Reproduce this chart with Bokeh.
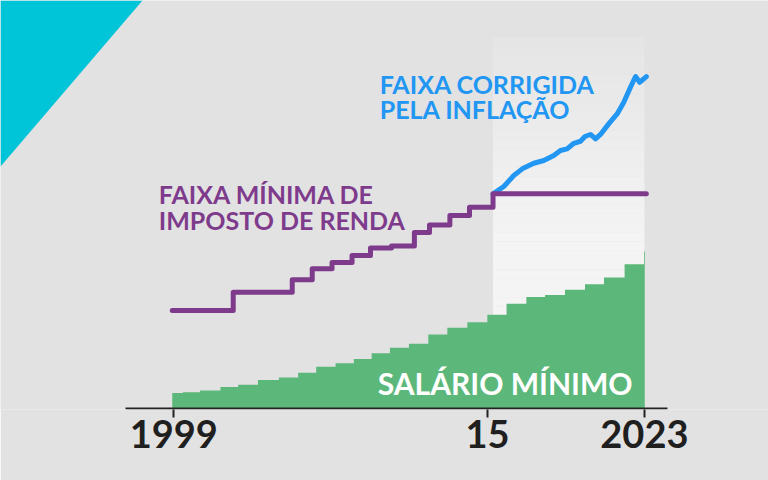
from bokeh.plotting import figure
from bokeh.models import Range1d, FixedTicker, PolyAnnotation
from bokeh.core.properties import value
from bokeh.embed import file_html
from bokeh.resources import INLINE

# ---- data -------------------------------------------------------------
# Salário mínimo (R$), step changes
wage_dates = [1998.92, 1999.46, 2000.33, 2001.38, 2002.28, 2003.29, 2004.36, 2005.34,
              2006.26, 2007.25, 2008.18, 2009.09, 2010.02, 2010.99, 2011.98, 2012.95,
              2013.97, 2014.99, 2015.97, 2016.98, 2017.93, 2018.95, 2019.97, 2020.94,
              2021.99, 2022.98, 2023.02]
wage_values = [130, 136, 151, 180, 200, 240, 260, 300, 350, 380, 415, 465, 510, 545,
               622, 678, 724, 788, 880, 937, 954, 998, 1045, 1100, 1212, 1320, 1320]

# Faixa mínima de imposto de renda (same scale)
ir_dates = [1998.92, 2002.03, 2005.04, 2006.06, 2007.07, 2008.09, 2009.03, 2010.10,
            2011.27, 2012.04, 2013.08, 2014.08, 2015.28, 2023.10]
ir_values = [824, 977, 1082, 1174, 1227, 1286, 1349, 1366, 1479, 1542, 1622, 1692,
             1804, 1804]

# Faixa corrigida pela inflação
infl_dates = [2015.28, 2015.83, 2016.34, 2016.77, 2017.36, 2017.87, 2018.38, 2018.72,
              2019.06, 2019.40, 2019.74, 2019.97, 2020.25, 2020.51, 2020.76, 2021.18,
              2021.61, 2021.95, 2022.29, 2022.55, 2022.76, 2023.10]
infl_values = [1804, 1866, 1958, 2014, 2061, 2084, 2126, 2168, 2182, 2229, 2246, 2286,
               2303, 2266, 2303, 2392, 2476, 2574, 2700, 2790, 2742, 2790]

tick_years = [1999, 2015, 2023]
tick_labels = ["1999", "15", "2023"]

# ---- styling ----------------------------------------------------------
BG = "#e2e2e2"
PURPLE = "#7e3b8c"
BLUE = "#2196f3"
GREEN = "#5cb87a"
CYAN = "#00c4d8"
FONT = "Lato"

AXIS_LEFT, AXIS_RIGHT = 1996.537, 2024.176   # extent of the drawn axis line
SHADE_TOP = 3118

p = figure(width=768, height=480, output_backend="svg", toolbar_location=None,
           x_range=Range1d(1990.16, 2029.33), y_range=Range1d(-8.4, 3429),
           y_axis_location=None,
           min_border_left=0, min_border_right=0, min_border_top=0,
           min_border_bottom=71)
p.background_fill_color = BG
p.border_fill_color = BG
p.outline_line_color = None
p.xgrid.visible = False
p.ygrid.visible = False

# decorative corner triangle
p.add_layout(PolyAnnotation(xs=[0, 142, 0], ys=[0, 0, 166],
                            xs_units="canvas", ys_units="canvas",
                            fill_color=CYAN, fill_alpha=1.0, line_alpha=0))

# shaded period (inflation-corrected era) as a vertical gradient
n_bands = 40
left = ir_dates[-2]
right = wage_dates[-2] + 0.02
tops, bottoms, cols = [], [], []
c_top = (0xe5, 0xe5, 0xe5)
c_bot = (0xf4, 0xf4, 0xf4)
for i in range(n_bands):
    t = SHADE_TOP * (1 - i / n_bands)
    b = SHADE_TOP * (1 - (i + 1) / n_bands)
    f = min(1.0, (i + 0.5) / (n_bands * 0.55))
    c = tuple(int(round(c_top[k] + (c_bot[k] - c_top[k]) * f)) for k in range(3))
    tops.append(t)
    bottoms.append(b)
    cols.append("#%02x%02x%02x" % c)
p.quad(left=left, right=right, top=tops, bottom=bottoms, fill_color=cols,
       line_color=None)

# minimum wage area
p.varea_step(x=wage_dates, y1=0, y2=wage_values, step_mode="after",
             fill_color=GREEN)

# inflation-corrected bracket
p.line(infl_dates, infl_values, line_color=BLUE, line_width=5,
       line_join="round", line_cap="round")

# income tax bracket
p.step(ir_dates, ir_values, mode="after", line_color=PURPLE, line_width=5,
       line_join="round", line_cap="round")

# labels
p.text(x=[1998.235, 1998.235], y=[1800, 1582],
       text=["FAIXA MÍNIMA DE", "IMPOSTO DE RENDA"],
       text_font=value(FONT), text_font_style="bold", text_font_size="25px",
       text_color=PURPLE, text_align="left", text_baseline="alphabetic")
p.text(x=[2009.50, 2009.50], y=[2724, 2514],
       text=["FAIXA CORRIGIDA", "PELA INFLAÇÃO"],
       text_font=value(FONT), text_font_style="bold", text_font_size="25px",
       text_color=BLUE, text_align="left", text_baseline="alphabetic")
p.text(x=[2015.9], y=[215], text=["SALÁRIO MÍNIMO"],
       text_font=value(FONT), text_font_style="bold", text_font_size="30px",
       text_color="white", text_align="center", text_baseline="alphabetic")

# axis line (only over the chart's span)
p.segment(x0=[AXIS_LEFT], y0=[0], x1=[AXIS_RIGHT], y1=[0],
          line_color="#222222", line_width=2)

# x axis: ticks and labels
ax = p.xaxis[0]
ax.ticker = FixedTicker(ticks=tick_years)
ax.major_label_overrides = {y: l for y, l in zip(tick_years, tick_labels)}
ax.axis_line_color = None
ax.major_tick_line_color = "#222222"
ax.major_tick_line_width = 2
ax.major_tick_out = 8
ax.major_tick_in = 0
ax.minor_tick_line_color = None
ax.major_label_text_font = FONT
ax.major_label_text_font_style = "bold"
ax.major_label_text_font_size = "38px"
ax.major_label_text_color = "#1f1f1f"
ax.major_label_standoff = 2

open("out.html", "w").write(file_html(p, INLINE))
